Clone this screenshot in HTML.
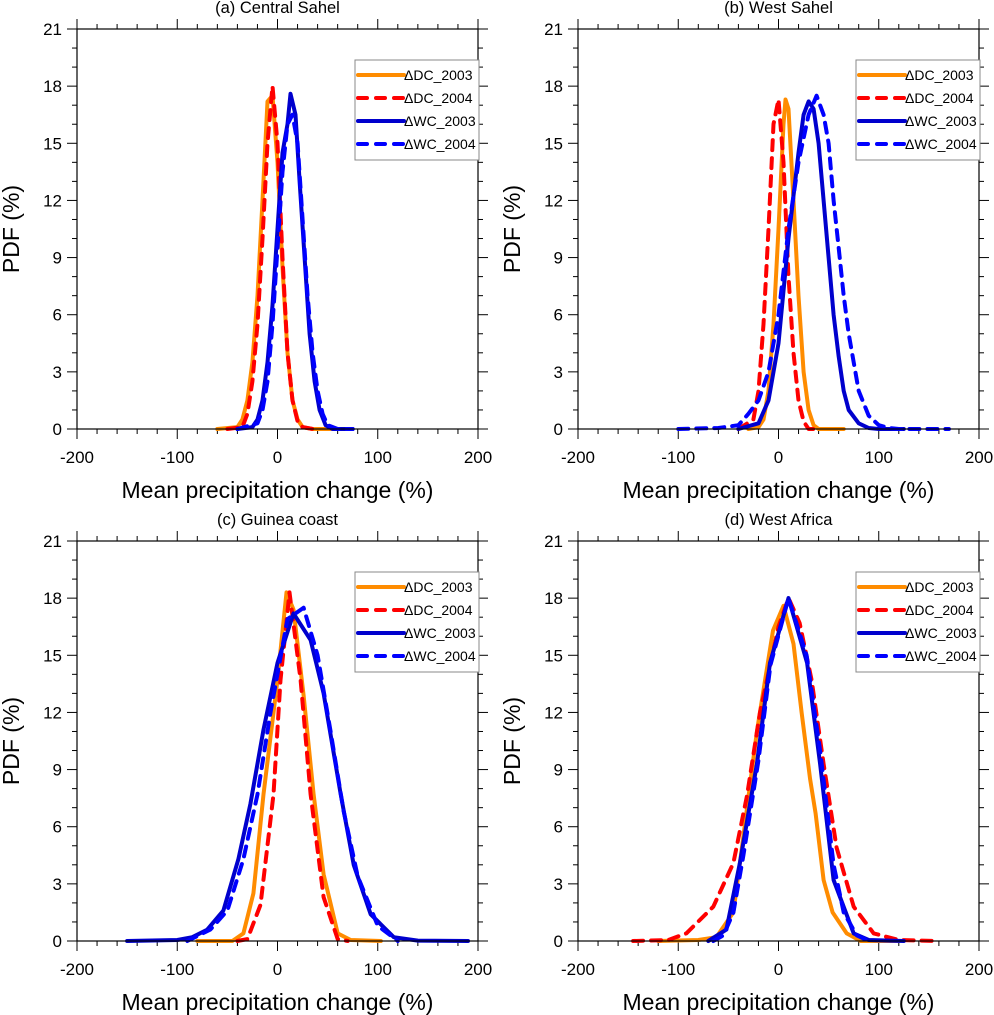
<!DOCTYPE html>
<html><head><meta charset="utf-8"><style>
html,body{margin:0;padding:0;background:#fff;}
svg{display:block;font-family:"Liberation Sans",sans-serif;}
</style></head><body>
<svg id="fig" width="994" height="1015" viewBox="0 0 994 1015"></svg>
<script>
const xTicks=[-200,-100,0,100,200];
const yTicks=[0,3,6,9,12,15,18,21];
const panelTitles=["(a) Central Sahel","(b) West Sahel","(c) Guinea coast","(d) West Africa"];
const seriesNames=["ΔDC_2003","ΔDC_2004","ΔWC_2003","ΔWC_2004"];
// Panel a
const aDC03x=[-60,-40,-35,-30,-25,-20,-15,-10,-5,0,5,10,15,20,25,35,55];
const aDC03y=[0,0.1,0.5,1.5,3.5,7,12,17.2,17.5,14,8.5,4,1.5,0.5,0.1,0,0];
const aDC04x=[-50,-35,-30,-25,-20,-15,-10,-5,0,5,10,15,20,25,35];
const aDC04y=[0,0.1,0.8,2.5,5.5,10,15,18,15,9,4,1.5,0.4,0.1,0];
const aWC03x=[-40,-25,-20,-15,-10,-5,0,5,10,13,18,22,27,32,37,42,48,55,75];
const aWC03y=[0,0.1,0.5,1.5,3.5,6.5,10.5,14.5,16,17.6,16.5,13,9,5,2.5,1,0.2,0,0];
const aWC04x=[-40,-20,-15,-10,-5,0,5,10,15,20,25,30,35,40,45,50,60,75];
const aWC04y=[0,0.3,1,2.5,5.5,9.5,13.5,16,16.5,15,11,7,4,2,0.8,0.2,0,0];
// Panel b
const bDC03x=[-30,-20,-15,-10,-5,0,5,7,10,15,20,25,30,35,40,65];
const bDC03y=[0,0.1,0.5,2,5.5,10.5,16,17.3,16.8,12,7,3,1,0.2,0,0];
const bDC04x=[-40,-25,-20,-15,-10,-5,0,5,10,15,20,25,30,40];
const bDC04y=[0,0.5,2,5.5,10.5,16,17.3,14,8,4,1.5,0.4,0,0];
const bWC03x=[-40,-20,-10,0,10,20,25,30,35,40,45,50,55,60,65,70,80,90,100,125];
const bWC03y=[0,0.3,1.5,4.5,10,14.5,16.5,17.2,16.8,15,12,9,6,3.8,2,1,0.3,0.05,0,0];
const bWC04x=[-100,-60,-40,-30,-20,-10,0,10,20,30,38,45,50,55,60,65,70,75,80,90,100,110,120,170];
const bWC04y=[0,0.05,0.2,0.8,1.5,3,6,10.5,14,16.5,17.5,16.5,15,12,9.5,7,5,3.5,2,0.7,0.2,0.05,0,0];
// Panel c
const cDC03x=[-80,-45,-34,-24,-14,0,9,16,26,36,46,60,73,103];
const cDC03y=[0,0,0.4,2.5,7.7,13.7,18.3,17.4,12.9,7.7,3.5,0.4,0.05,0];
const cDC04x=[-40,-30,-17,-4,3,12,23,33,46,60,70];
const cDC04y=[0,0.1,1.9,7.7,13.7,18.3,13.7,7.7,2.3,0.1,0];
const cWC03x=[-150,-100,-85,-70,-54,-39,-27,-14,0,16,33,46,63,76,93,116,140,190];
const cWC03y=[0,0.05,0.2,0.6,1.6,4.3,7.2,11.1,14.6,17.2,15.8,13,7.7,4,1.4,0.2,0.02,0];
const cWC04x=[-90,-67,-50,-34,-20,-7,10,26,40,53,66,80,100,120];
const cWC04y=[0,0.6,1.6,4.3,7.7,12,16.9,17.5,15,11,6.8,3.4,0.8,0];
// Panel d
const dDC03x=[-120,-80,-62,-45,-35,-21.5,-5.5,5,15,23,31.5,37,45,54,68,82,120];
const dDC03y=[0,0.05,0.2,1.5,5.5,11,16.3,17.6,15.6,12,8.5,6.7,3.2,1.5,0.4,0,0];
const dDC04x=[-145,-110,-92,-65,-45,-31.5,-18.5,0,10,21,33,45,58,75,95,120,160];
const dDC04y=[0,0.05,0.4,1.8,4.1,7.6,12,16.5,18,16.7,13.7,9.3,4.9,1.8,0.4,0.05,0];
const dWC03x=[-70,-52,-38.5,-21.5,-8.5,10,28.5,41.5,55,75,90,125];
const dWC03y=[0,0.6,4.1,9.3,14.6,18,14.6,9.3,3.2,0.4,0.05,0];
const dWC04x=[-65,-55,-45,-35,-20,-8,10,28,42,55,65,78,90];
const dWC04y=[0,0.3,1.5,4.5,9.5,14.5,18,15,9.8,4,1.5,0.3,0];

const panelData=[
 [[aDC03x,aDC03y],[aDC04x,aDC04y],[aWC03x,aWC03y],[aWC04x,aWC04y]],
 [[bDC03x,bDC03y],[bDC04x,bDC04y],[bWC03x,bWC03y],[bWC04x,bWC04y]],
 [[cDC03x,cDC03y],[cDC04x,cDC04y],[cWC03x,cWC03y],[cWC04x,cWC04y]],
 [[dDC03x,dDC03y],[dDC04x,dDC04y],[dWC03x,dWC03y],[dWC04x,dWC04y]]
];
const styles=[
 {c:"#ff8c00",d:""},{c:"#ff0000",d:"10,8"},{c:"#0000cd",d:""},{c:"#0000ff",d:"10,8"}
];
const NS="http://www.w3.org/2000/svg";
const svg=document.getElementById("fig");
function mk(tag,attrs,parent){const e=document.createElementNS(NS,tag);for(const k in attrs)e.setAttribute(k,attrs[k]);parent.appendChild(e);return e;}
const W=401,H=400;
const origins=[[77,29],[578,29],[77,541],[578,541]];
origins.forEach((o,pi)=>{
  const L=o[0],T=o[1];
  const sx=v=>L+(v+200)/400*W;
  const sy=v=>T+H-v/21*H;
  const g=mk("g",{},svg);
  
  
  const t=mk("text",{x:L+W/2,y:T-16,"font-size":16.5,"text-anchor":"middle"},g);
  t.textContent=panelTitles[pi];
  
  
  const tk=mk("g",{stroke:"#000","stroke-width":1},g);
  for(let v=-200;v<=200;v+=20){
    const major=v%100===0, len=major?10:5;
    mk("line",{x1:sx(v),x2:sx(v),y1:T+H,y2:T+H+len},tk);
    mk("line",{x1:sx(v),x2:sx(v),y1:T,y2:T-len},tk);
  }
  for(let v=0;v<=21;v++){
    const major=v%3===0, len=major?10:5;
    mk("line",{x1:L,x2:L-len,y1:sy(v),y2:sy(v)},tk);
    mk("line",{x1:L+W,x2:L+W+len,y1:sy(v),y2:sy(v)},tk);
  }
  const xg=mk("g",{},g);
  
  
  xTicks.forEach(v=>{const e=mk("text",{x:sx(v),y:T+H+34,"font-size":17,"text-anchor":"middle"},xg);e.textContent=v;});
  const yg=mk("g",{},g);
  
  
  yTicks.forEach(v=>{const e=mk("text",{x:L-15,y:sy(v)+6,"font-size":17,"text-anchor":"end"},yg);e.textContent=v;});
  const xl=mk("text",{x:L+W/2,y:T+H+69,"font-size":23,"text-anchor":"middle"},g);
  xl.textContent="Mean precipitation change (%)";
  
  
  const yl=mk("text",{x:0,y:0,"font-size":23,"text-anchor":"middle",transform:`translate(${L-58},${T+H/2}) rotate(-90)`},g);
  yl.textContent="PDF (%)";
  
  
  panelData[pi].forEach((s,si)=>{
    const pts=s[0].map((x,i)=>sx(x).toFixed(1)+","+sy(s[1][i]).toFixed(1)).join(" ");
    const a={points:pts,fill:"none",stroke:styles[si].c,"stroke-width":4,"stroke-linejoin":"round","stroke-linecap":"round"};
    if(styles[si].d)a["stroke-dasharray"]=styles[si].d;
    const pl=mk("polyline",a,g);
    
    
  });
  mk("rect",{x:L,y:T,width:W,height:H,fill:"none",stroke:"#000","stroke-width":1.2},g);
  const lg=mk("g",{},g);
  
  
  mk("rect",{x:L+278,y:T+31,width:124,height:100,fill:"#fff",stroke:"#888","stroke-width":1},lg);
  seriesNames.forEach((n,si)=>{
    const y=T+46+si*23;
    const e=mk("g",{},lg);
    
    
    const a={x1:L+281,x2:L+327,y1:y,y2:y,stroke:styles[si].c,"stroke-width":4,"stroke-linecap":"round"};
    if(styles[si].d)a["stroke-dasharray"]="9,9";
    mk("line",a,e);
    const tx=mk("text",{x:L+327,y:y+5,"font-size":14},e);
    tx.textContent=n;
  });
});
</script>
</body></html>
